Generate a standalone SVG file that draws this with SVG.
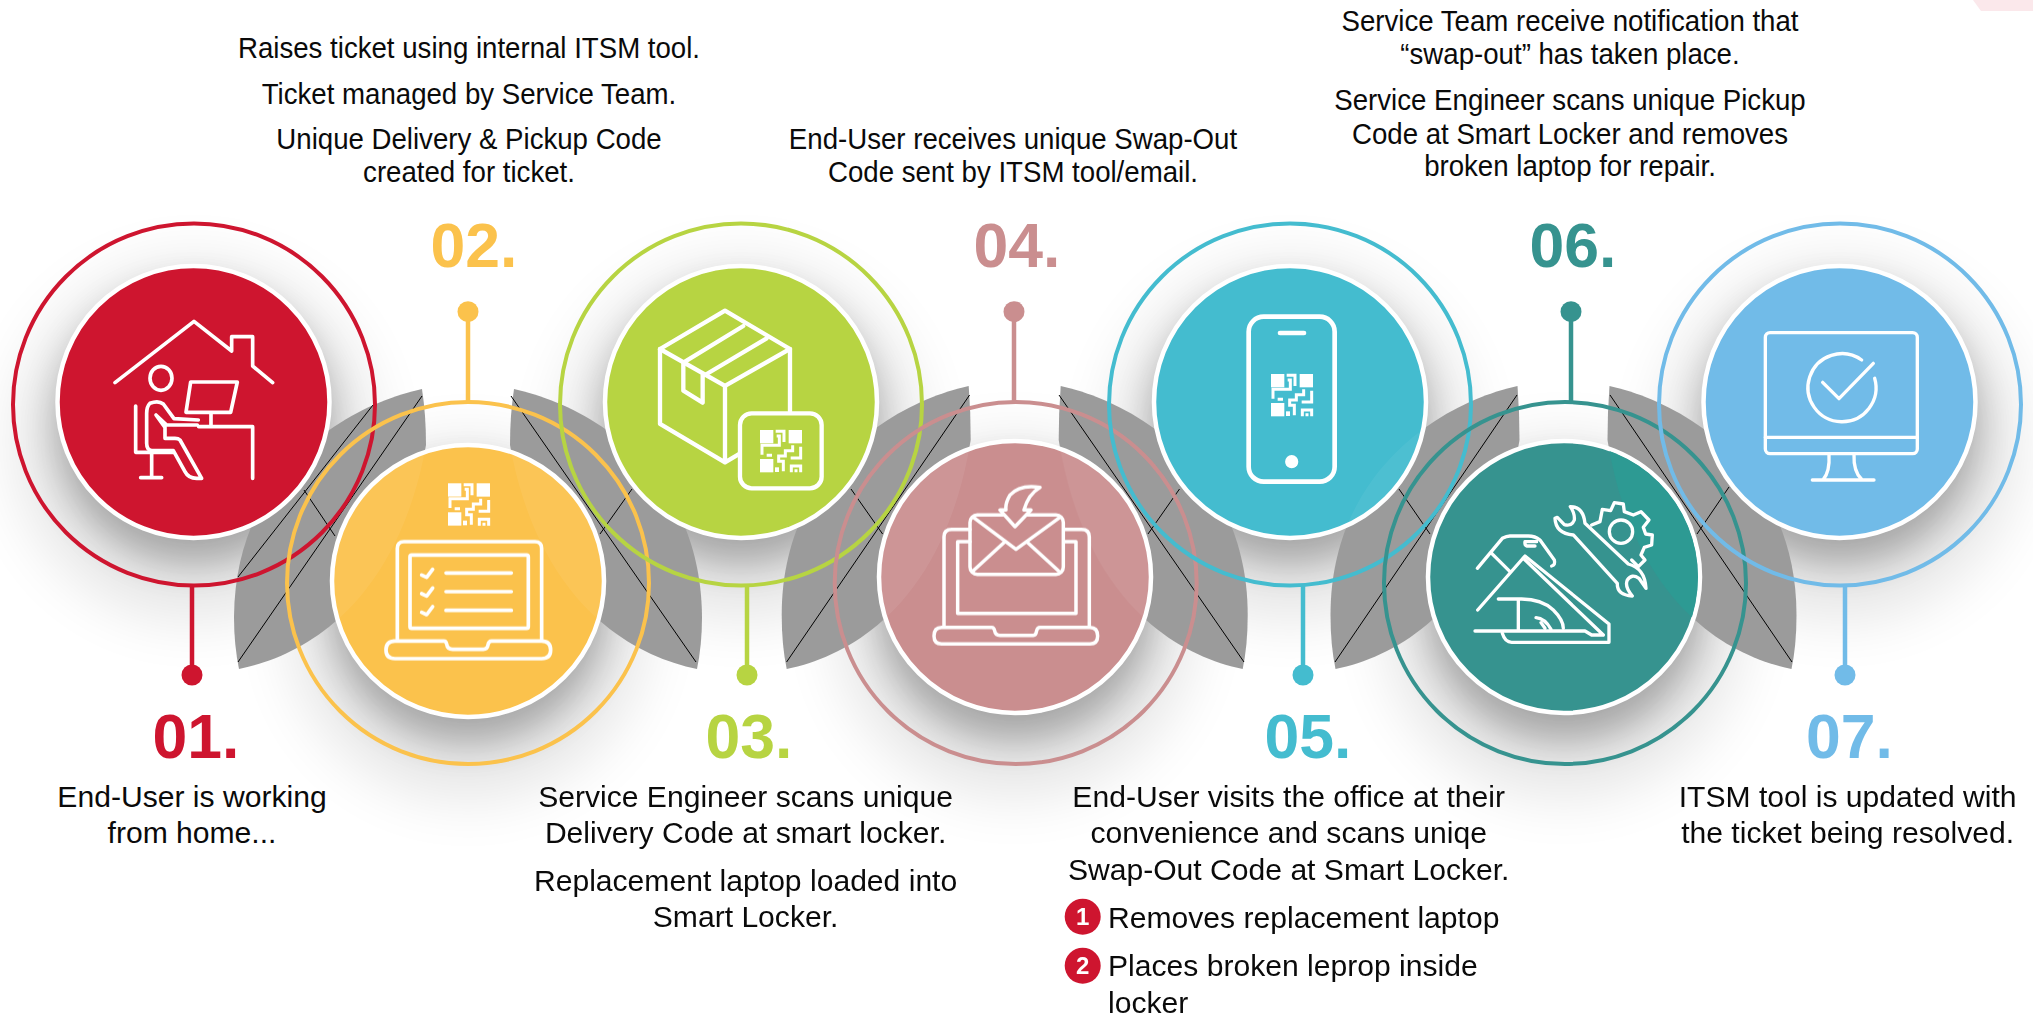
<svg xmlns="http://www.w3.org/2000/svg" width="2033" height="1018" viewBox="0 0 2033 1018">
<style>
.t{font-family:"Liberation Sans",Arial,sans-serif;font-size:30.1px;fill:#0a0a0a;text-anchor:middle}
.u{font-family:"Liberation Sans",Arial,sans-serif;font-size:29.4px;fill:#0a0a0a;text-anchor:middle}
.tl{text-anchor:start}
.n{font-family:"Liberation Sans",Arial,sans-serif;font-weight:700;font-size:62.5px;text-anchor:middle}
.b{font-family:"Liberation Sans",Arial,sans-serif;font-weight:700;font-size:24px;fill:#fff;text-anchor:middle}
.ring{fill:none;stroke-width:4}
.disk{stroke:#fff;stroke-width:4.5}
.ic{fill:none;stroke:#fff;stroke-linecap:round;stroke-linejoin:round}
.qr{fill:none;stroke:#fff;stroke-width:9;stroke-linejoin:miter}
.stem{stroke-width:4.5;fill:none}
.hair{stroke:#000;stroke-width:1;fill:none}
.wing{fill:#9b9b9b}
</style>
<defs>
<filter id="bl1" x="-40%" y="-40%" width="180%" height="180%"><feGaussianBlur stdDeviation="18"/></filter>
<filter id="bl2" x="-40%" y="-40%" width="180%" height="180%"><feGaussianBlur stdDeviation="30"/></filter>
<g id="shadow">
<circle cx="0" cy="38" r="178" fill="#000" opacity=".10" filter="url(#bl2)"/>
<circle cx="0" cy="22" r="138" fill="#000" opacity=".27" filter="url(#bl1)"/>
</g>
<path id="wingA" d="M-46,389C-120,405 -233,470 -234,617Q-234,645 -229,669C-160,655 -70,600 -42,445Q-42,415 -46,389Z"/>
<path id="wingB" d="M-46,386C-120,402 -233,470 -233,615Q-233,645 -228,669C-160,655 -70,600 -44,440Q-44,412 -46,386Z"/>
<g id="qrc">
<rect x="0" y="0" width="40" height="40" fill="#fff"/><rect x="86" y="0" width="40" height="40" fill="#fff"/><rect x="0" y="87" width="40" height="40" fill="#fff"/>
<path class="qr" d="M47,4H72V36M50,18H58V46H6V74M98,46V62H76V78H56V94H70V124M122,50V84H92M20,76H36M94,127V108H122V127M108,127V118"/>
<rect x="45" y="112" width="12" height="14" fill="#fff"/>
</g>
<clipPath id="c2"><circle cx="468" cy="581" r="134"/></clipPath>
<clipPath id="c4"><circle cx="1015" cy="577" r="134"/></clipPath>
<clipPath id="c5"><circle cx="1290" cy="402" r="134"/></clipPath>
<clipPath id="c6"><circle cx="1564" cy="577" r="134"/></clipPath>
</defs>
<rect width="2033" height="1018" fill="#fff"/>
<path d="M1973,0L1981,11H2033V0Z" fill="#fbe8eb"/>
<g id="shadows">
<use href="#shadow" transform="translate(194,403)"/>
<use href="#shadow" transform="translate(468,582)"/>
<use href="#shadow" transform="translate(741,403)"/>
<use href="#shadow" transform="translate(1015,580)"/>
<use href="#shadow" transform="translate(1290,403)"/>
<use href="#shadow" transform="translate(1564,580)"/>
<use href="#shadow" transform="translate(1840,403)"/>
</g>
<g id="wings" class="wing">
<use href="#wingA" transform="translate(468,0)"/>
<use href="#wingA" transform="translate(468,0) scale(-1,1)"/>
<use href="#wingB" transform="translate(1014.7,0)"/>
<use href="#wingB" transform="translate(1014.7,0) scale(-1,1)"/>
<use href="#wingB" transform="translate(1563.5,0)"/>
<use href="#wingB" transform="translate(1563.5,0) scale(-1,1)"/>
</g>
<g id="hairlines" class="hair">
<path d="M422,396L238,662M373,405L238,577M304,490L335,536"/>
<path d="M511,396L696,662M632,489L600,534"/>
<path d="M969.6,395L786.6,662M851,489L882.6,534"/>
<path d="M1059,395L1244,662M1179.5,489L1148,534"/>
<path d="M1517,395L1335,662M1399,489L1430,534"/>
<path d="M1610,395L1792,662M1729,487L1697,534"/>
</g>
<g id="connectors">
<path class="stem" stroke="#ce152f" d="M192,585V670"/><circle cx="192" cy="675" r="10.5" fill="#ce152f"/>
<path class="stem" stroke="#fbc24c" d="M468,317V402"/><circle cx="468" cy="311.7" r="10.5" fill="#fbc24c"/>
<path class="stem" stroke="#b7d442" d="M747,585V670"/><circle cx="747" cy="675" r="10.5" fill="#b7d442"/>
<path class="stem" stroke="#ca8e8f" d="M1014,317V402"/><circle cx="1014" cy="311.7" r="10.5" fill="#ca8e8f"/>
<path class="stem" stroke="#44bccf" d="M1303,585V670"/><circle cx="1303" cy="675" r="10.5" fill="#44bccf"/>
<path class="stem" stroke="#36938f" d="M1571,317V402"/><circle cx="1571" cy="311.7" r="10.5" fill="#36938f"/>
<path class="stem" stroke="#71bbe8" d="M1845,585V670"/><circle cx="1845" cy="675" r="10.5" fill="#71bbe8"/>
</g>
<g id="node1">
<circle class="ring" cx="194" cy="404.500" r="181" stroke="#ce152f"/>
<circle class="disk" cx="193.500" cy="402" r="136" fill="#ce152f"/>
<g class="ic" transform="translate(100,300) scale(.3333)" style="stroke-width:11">
<path d="M45,248L282,64L395,153V110H458V198L518,248"/>
<ellipse cx="183" cy="235" rx="33" ry="36"/>
<path d="M272,246H412L392,337H258Z"/>
<path d="M333,340V376M296,380H458V535"/>
<path d="M107,318V457H220M155,457V533M122,533H185"/>
<path d="M295,360L222,356L190,312Q175,300 150,310Q140,320 140,340V430Q140,450 155,452H220L255,515Q265,535 290,535H305L240,420Q235,415 225,415H195V382L168,345L200,375H292"/>
</g>
<text class="n" x="196" y="758" fill="#ce152f">01.</text>
<text class="t" x="192" y="807">End-User is working</text>
<text class="t" x="192" y="843">from home...</text>
</g>
<g id="node2">
<circle class="ring" cx="468" cy="583" r="181" stroke="#fbc24c"/>
<circle class="disk" cx="468" cy="581" r="136" fill="#fbc24c"/>
<g clip-path="url(#c2)" fill="#fff" opacity=".06">
<use href="#wingA" transform="translate(468,0)"/>
<use href="#wingA" transform="translate(468,0) scale(-1,1)"/>
</g>
<use href="#qrc" transform="translate(448,483.300) scale(.3333)"/>
<g class="ic" transform="translate(370,470) scale(.3333)" style="stroke-width:11">
<path d="M82,508V235Q82,215 102,215H495Q515,215 515,235V508"/>
<rect x="120" y="255" width="355" height="220" rx="5"/>
<path d="M155,315L170,322L188,298M155,371L170,378L188,354M155,427L170,434L188,410"/>
<path d="M228,309H424M228,365H424M228,421H424"/>
<path d="M70,513H222Q228,513 230,522Q232,538 248,538H340Q352,538 354,525Q356,513 365,513H515Q542,513 542,540Q542,566 515,566H75Q48,566 48,540Q48,513 75,513Z"/>
</g>
<text class="n" x="474" y="267" fill="#fbc24c">02.</text>
<g transform="translate(469,0) scale(.94,1)">
<text class="u" x="0" y="58">Raises ticket using internal ITSM tool.</text>
<text class="u" x="0" y="104">Ticket managed by Service Team.</text>
<text class="u" x="0" y="149">Unique Delivery &amp; Pickup Code</text>
<text class="u" x="0" y="182">created for ticket.</text>
</g>
</g>
<g id="node3">
<circle class="ring" cx="741" cy="404.500" r="181" stroke="#b7d442"/>
<circle class="disk" cx="741" cy="402" r="136" fill="#b7d442"/>
<g class="ic" transform="translate(650,300) scale(.3333)" style="stroke-width:13">
<path d="M225,32L420,147L225,258L30,147Z"/>
<path d="M30,147V372L225,487V258M420,147V335M225,487L268,462"/>
<path d="M100,188L280,78M165,225L350,115M100,188V272L158,308V225"/>
<rect x="270" y="340" width="245" height="225" rx="35"/>
</g>
<use href="#qrc" transform="translate(760,430) scale(.3333)"/>
<text class="n" x="749" y="758" fill="#b7d442">03.</text>
<text class="t" x="745.600" y="807">Service Engineer scans unique</text>
<text class="t" x="745.600" y="843">Delivery Code at smart locker.</text>
<text class="t" x="745.600" y="891">Replacement laptop loaded into</text>
<text class="t" x="745.600" y="927">Smart Locker.</text>
</g>
<g id="node4">
<circle class="ring" cx="1015.700" cy="583" r="181" stroke="#ca8e8f"/>
<circle class="disk" cx="1015" cy="577" r="136" fill="#ca8e8f"/>
<g clip-path="url(#c4)" fill="#fff" opacity=".07">
<use href="#wingB" transform="translate(1014.700,0)"/>
<use href="#wingB" transform="translate(1014.700,0) scale(-1,1)"/>
</g>
<g class="ic" transform="translate(920,480) scale(.3333)" style="stroke-width:10.500">
<path d="M150,148H95Q72,148 72,170V438M432,148H485Q508,148 508,170V438M150,185H113V400H468V185H432"/>
<path d="M65,442H215Q222,442 224,452Q226,466 240,466H340Q348,466 350,452Q352,442 360,442H510Q533,442 533,468Q533,492 510,492H65Q42,492 42,468Q42,442 65,442Z"/>
<rect x="150" y="105" width="280" height="178" rx="22"/>
<path d="M160,112L288,208L420,112M160,272L255,185M415,272L320,185"/>
<path d="M285,140L240,90H258Q255,70 270,45Q300,12 360,22Q325,42 312,90H333Z" fill="#ca8e8f"/>
</g>
<text class="n" x="1017" y="267" fill="#ca8e8f">04.</text>
<g transform="translate(1013,0) scale(.94,1)">
<text class="u" x="0" y="149">End-User receives unique Swap-Out</text>
<text class="u" x="0" y="182">Code sent by ITSM tool/email.</text>
</g>
</g>
<g id="node5">
<circle class="ring" cx="1290" cy="404.500" r="181" stroke="#44bccf"/>
<circle class="disk" cx="1290" cy="402" r="136" fill="#44bccf"/>
<g clip-path="url(#c5)" fill="#fff" opacity=".05">
<use href="#wingB" transform="translate(1563.500,0)"/>
</g>
<g class="ic" transform="translate(1230,305) scale(.3333)" style="stroke-width:14">
<rect x="56" y="35" width="258" height="495" rx="45"/>
<path d="M150,84H222"/>
</g>
<circle cx="1291.700" cy="461.700" r="6.600" fill="#fff"/>
<use href="#qrc" transform="translate(1271,374) scale(.3333)"/>
<text class="n" x="1308" y="758" fill="#44bccf">05.</text>
<text class="t" x="1288.700" y="807">End-User visits the office at their</text>
<text class="t" x="1288.700" y="843">convenience and scans uniqe</text>
<text class="t" x="1288.700" y="880">Swap-Out Code at Smart Locker.</text>
<circle cx="1082.700" cy="916.700" r="18" fill="#ce152f"/>
<text class="b" x="1082.700" y="925">1</text>
<text class="t tl" x="1108" y="928">Removes replacement laptop</text>
<circle cx="1082.700" cy="965.700" r="18" fill="#ce152f"/>
<text class="b" x="1082.700" y="974">2</text>
<text class="t tl" x="1108" y="976">Places broken leprop inside</text>
<text class="t tl" x="1108" y="1013">locker</text>
</g>
<g id="node6">
<circle class="ring" cx="1565" cy="583" r="181" stroke="#36938f"/>
<circle class="disk" cx="1564" cy="577" r="136" fill="#36938f"/>
<g clip-path="url(#c6)" fill="#2d9a93">
<use href="#wingB" transform="translate(1563.500,0) scale(-1,1)"/>
</g>
<g class="ic" transform="translate(1465,490) scale(.3333)" style="stroke-width:10">
<path d="M37,235L112,145Q125,138 135,138H190Q210,138 225,150L268,210Q272,225 260,228M80,190L135,245M180,155H215M180,155Q178,165 185,168H210"/>
<path d="M38,360L180,198L432,402V457H140Q120,457 112,430"/>
<path d="M175,205L415,435H380L360,423H30"/>
<path d="M100,327H170Q230,327 265,360Q295,390 295,415M160,327V420"/>
<path d="M213,383Q240,385 258,418M228,398L240,415"/>
<path d="M316,50Q355,50 360,100L490,222Q540,235 543,295L522,265Q500,250 487,270Q478,290 502,318Q455,315 457,280L325,135Q272,130 270,85L277,82L298,104Q320,110 328,90Q330,70 316,50Z"/>
<path d="M380,105L405,95L412,58L437,62L448,38L475,42L478,65L505,75L528,65L552,90L535,112L542,132L562,135L560,165L538,172L528,195L540,210L520,230L500,210"/>
<circle cx="468" cy="125" r="35"/>
</g>
<text class="n" x="1573" y="267" fill="#36938f">06.</text>
<g transform="translate(1570,0) scale(.94,1)">
<text class="u" x="0" y="31">Service Team receive notification that</text>
<text class="u" x="0" y="64">“swap-out” has taken place.</text>
<text class="u" x="0" y="110">Service Engineer scans unique Pickup</text>
<text class="u" x="0" y="144">Code at Smart Locker and removes</text>
<text class="u" x="0" y="176">broken laptop for repair.</text>
</g>
</g>
<g id="node7">
<circle class="ring" cx="1840" cy="404.500" r="181" stroke="#71bbe8"/>
<circle class="disk" cx="1839.500" cy="402" r="136" fill="#71bbe8"/>
<g class="ic" transform="translate(1750,320) scale(.3333)" style="stroke-width:10">
<rect x="46" y="38" width="456" height="363" rx="14"/>
<path d="M46,352H502M237,402Q240,455 220,478M312,402Q310,455 335,478M187,480H372"/>
<path d="M335,120A102,102 0 1 0 374,175"/>
<path d="M218,187L267,236L370,130"/>
</g>
<text class="n" x="1849.500" y="758" fill="#71bbe8">07.</text>
<text class="t" x="1847.600" y="807">ITSM tool is updated with</text>
<text class="t" x="1847.600" y="843">the ticket being resolved.</text>
</g>
</svg>
